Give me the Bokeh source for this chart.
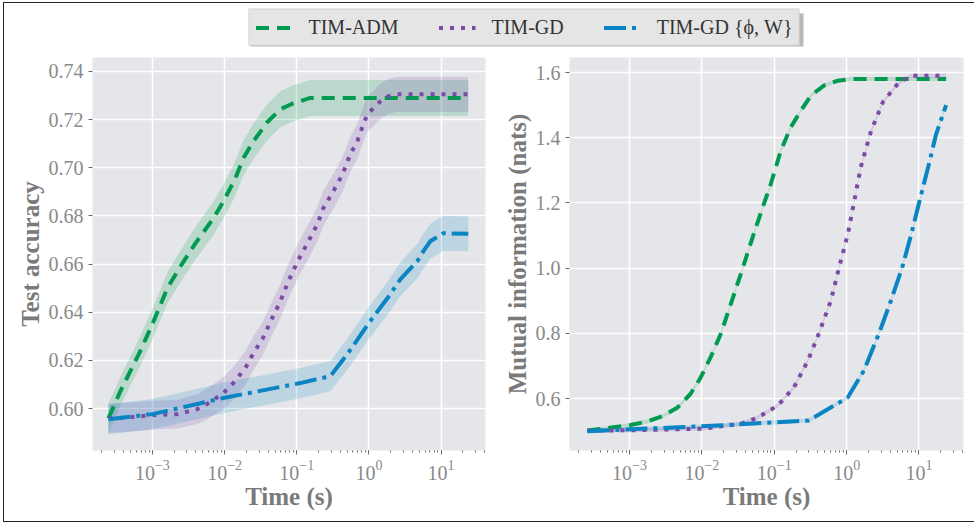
from bokeh.plotting import figure
from bokeh.layouts import column, row
from bokeh.models import Range1d, Legend, LegendItem, FixedTicker, NumeralTickFormatter
from bokeh.embed import file_html
from bokeh.resources import INLINE

# ---------------- data ----------------
# Test accuracy against wall-clock time (seconds), mean and spread
adm_acc_time = [2.46e-4, 3.61e-4, 6.82e-4, 1.03e-3, 1.61e-3, 2.44e-3, 3.94e-3, 7.00e-3,
                9.62e-3, 1.41e-2, 1.82e-2, 2.51e-2, 3.92e-2, 5.93e-2, 8.97e-2, 0.154, 23.8]
adm_acc = [0.596, 0.6073, 0.624, 0.636, 0.650, 0.659, 0.6686, 0.679,
           0.686, 0.6956, 0.704, 0.711, 0.719, 0.7243, 0.7268, 0.729, 0.729]
adm_acc_std = [0.006, 0.006, 0.0062, 0.0064, 0.0065, 0.0066, 0.0068, 0.007,
               0.007, 0.0072, 0.0073, 0.0074, 0.0075, 0.0075, 0.0075, 0.0075, 0.0075]

gd_acc_time = [2.46e-4, 3.96e-4, 1.03e-3, 2.22e-3, 4.20e-3, 5.78e-3, 9.62e-3, 1.32e-2,
               1.94e-2, 2.51e-2, 3.34e-2, 4.31e-2, 5.93e-2, 7.66e-2, 0.105, 0.140,
               0.193, 0.233, 0.321, 0.429, 0.552, 0.690, 0.836, 0.951, 1.15, 1.44,
               1.86, 2.47, 23.8]
gd_acc = [0.596, 0.5962, 0.5973, 0.5977, 0.5998, 0.602, 0.6064, 0.6106,
          0.6168, 0.623, 0.6288, 0.636, 0.6446, 0.6529, 0.6617, 0.6686,
          0.6766, 0.6832, 0.6902, 0.6972, 0.7056, 0.711, 0.718, 0.7222, 0.7247, 0.7276,
          0.7297, 0.7305, 0.7305]
gd_acc_std = [0.006, 0.006, 0.006, 0.006, 0.0062, 0.0064, 0.0066, 0.0068,
              0.007, 0.007, 0.007, 0.007, 0.0072, 0.0072, 0.0072, 0.0072,
              0.0073, 0.0073, 0.0073, 0.0073, 0.0073, 0.0073, 0.0073, 0.0073, 0.0073, 0.0073,
              0.0073, 0.0073, 0.0073]

gdw_acc_time = [2.46e-4, 1.0e-3, 9.62e-3, 0.112, 0.292, 0.502, 1.04, 1.80,
                2.72, 4.68, 5.66, 7.08, 10.7, 23.8]
gdw_acc = [0.5956, 0.5977, 0.6044, 0.6106, 0.6135, 0.6226, 0.6363, 0.6458,
           0.6537, 0.6612, 0.6653, 0.6695, 0.6728, 0.6726]
gdw_acc_std = [0.0063, 0.0063, 0.0063, 0.0063, 0.0063, 0.0065, 0.0067, 0.0069,
               0.007, 0.0072, 0.0073, 0.0073, 0.0073, 0.0073]

# Mutual information (nats) against wall-clock time (seconds)
adm_mi_time = [2.62e-4, 1.03e-3, 1.77e-3, 2.96e-3, 4.61e-3, 6.98e-3, 9.62e-3, 1.32e-2,
               1.82e-2, 2.55e-2, 3.66e-2, 5.20e-2, 6.93e-2, 8.95e-2, 0.123, 0.169,
               0.233, 0.320, 0.484, 0.757, 1.15, 23.7]
adm_mi = [0.502, 0.519, 0.530, 0.548, 0.573, 0.615, 0.665, 0.727,
          0.798, 0.895, 1.0, 1.105, 1.187, 1.258, 1.36, 1.432,
          1.483, 1.529, 1.56, 1.575, 1.58, 1.58]

gd_mi_time = [2.62e-4, 1.0e-3, 1.06e-2, 3.44e-2, 5.92e-2, 0.112, 0.186, 0.291,
              0.413, 0.605, 0.782, 1.04, 1.26, 1.57, 2.17, 3.18, 5.12, 7.74, 23.7]
gd_mi = [0.502, 0.503, 0.508, 0.523, 0.542, 0.579, 0.634, 0.716,
         0.80, 0.90, 1.00, 1.105, 1.20, 1.31, 1.42, 1.51, 1.566, 1.59, 1.59]

gdw_mi_time = [2.62e-4, 1.0e-3, 9.9e-3, 0.30, 1.04, 1.73, 2.80, 4.09,
               5.82, 7.74, 10.0, 13.4, 17.2, 23.7]
gdw_mi = [0.500, 0.506, 0.515, 0.533, 0.604, 0.686, 0.80, 0.90,
          1.00, 1.10, 1.20, 1.31, 1.41, 1.50]
mi_std = 0.006

labels = ["TIM-ADM", "TIM-GD", "TIM-GD {ϕ, W}"]
colors = ["#009a50", "#7b4aa5", "#0a84c2"]
dashes = ["13 8", "4 7", "22 6 4 6"]

acc_ticks = [0.60, 0.62, 0.64, 0.66, 0.68, 0.70, 0.72, 0.74]
mi_ticks = [0.6, 0.8, 1.0, 1.2, 1.4, 1.6]

# ---------------- styling ----------------
SERIF = "Liberation Serif"
PANEL_BG = "#e5e6e9"
X_RANGE = (10 ** -3.83, 10 ** 1.615)


def panel(ylabel, y_range, ticks, fmt, width, left, right):
    p = figure(width=width, height=470, x_axis_type="log",
               x_range=Range1d(*X_RANGE), y_range=Range1d(*y_range),
               output_backend="svg", toolbar_location=None,
               min_border_left=left, min_border_right=right,
               min_border_top=6, min_border_bottom=71,
               background_fill_color=PANEL_BG, border_fill_color="white",
               outline_line_color=None)
    p.grid.grid_line_color = "white"
    p.grid.grid_line_width = 1.6
    p.yaxis.ticker = FixedTicker(ticks=ticks)
    p.yaxis.formatter = NumeralTickFormatter(format=fmt)
    for ax in (p.xaxis[0], p.yaxis[0]):
        ax.axis_line_color = None
        ax.major_tick_line_color = "#666666"
        ax.major_tick_in = 0
        ax.major_tick_out = 4
        ax.minor_tick_in = 0
        ax.minor_tick_out = 2
        ax.minor_tick_line_color = "#666666"
        ax.major_label_text_font = SERIF
        ax.major_label_text_font_size = "20px"
        ax.major_label_text_color = "#8a8a8a"
        ax.axis_label_text_font = SERIF
        ax.axis_label_text_font_style = "bold"
        ax.axis_label_text_font_size = "25px"
        ax.axis_label_text_color = "#7a7a7a"
    p.yaxis.minor_tick_line_color = None
    p.xaxis.axis_label = "Time (s)"
    p.xaxis.axis_label_standoff = 0
    p.yaxis.axis_label = ylabel
    p.yaxis.axis_label_standoff = 2
    return p


left = panel("Test accuracy", (0.5826, 0.7458), acc_ticks, "0.00", 486, 88, 5)
right = panel("Mutual information (nats)", (0.441, 1.646), mi_ticks, "0.0", 486, 79, 13)

acc_series = [(adm_acc_time, adm_acc, adm_acc_std),
              (gd_acc_time, gd_acc, gd_acc_std),
              (gdw_acc_time, gdw_acc, gdw_acc_std)]
mi_series = [(adm_mi_time, adm_mi), (gd_mi_time, gd_mi), (gdw_mi_time, gdw_mi)]

# shaded spread bands first, then the mean curves on top
for (t, m, s), c in zip(acc_series, colors):
    left.varea(x=t, y1=[a - b for a, b in zip(m, s)], y2=[a + b for a, b in zip(m, s)],
               fill_color=c, fill_alpha=0.18)
for (t, m), c in zip(mi_series, colors):
    right.varea(x=t, y1=[a - mi_std for a in m], y2=[a + mi_std for a in m],
                fill_color=c, fill_alpha=0.18)
for (t, m, s), c, d in zip(acc_series, colors, dashes):
    left.line(t, m, line_color=c, line_width=4, line_dash=d)
for (t, m), c, d in zip(mi_series, colors, dashes):
    right.line(t, m, line_color=c, line_width=4, line_dash=d)

# ---------------- shared legend strip ----------------
top = figure(width=972, height=48, output_backend="svg", toolbar_location=None,
             x_range=Range1d(68, 972), y_range=Range1d(48, 0),
             min_border_left=68, min_border_right=0, min_border_top=0, min_border_bottom=0,
             outline_line_color=None, background_fill_color="white", border_fill_color="white")
top.axis.visible = False
top.grid.visible = False
# soft drop shadow under the legend box
top.quad(left=246, right=799, top=10, bottom=43, fill_color="#a0a0a0",
         fill_alpha=0.75, line_color=None)
items = []
for lab, c, d in zip(labels, colors, dashes):
    # legend-only proxy lines, kept outside the visible strip
    r = top.line([-200, -190], [-200, -200], line_color=c, line_width=4, line_dash=d)
    items.append(LegendItem(label=lab, renderers=[r]))
legend = Legend(items=items, location="center", orientation="horizontal",
                label_text_font=SERIF, label_text_font_size="20px",
                label_text_color="#333333", glyph_width=37, glyph_height=18,
                label_height=18, label_standoff=16, spacing=40, padding=6, margin=0,
                border_line_color="#c8c8c8", border_line_width=1,
                background_fill_color="#e5e5e5", background_fill_alpha=1.0)
top.add_layout(legend, "center")

layout = column(top, row(left, right), margin=(2, 0, 0, 3),
                styles={"border": "1.5px solid #222222"})

open("out.html", "w").write(file_html(layout, INLINE))
